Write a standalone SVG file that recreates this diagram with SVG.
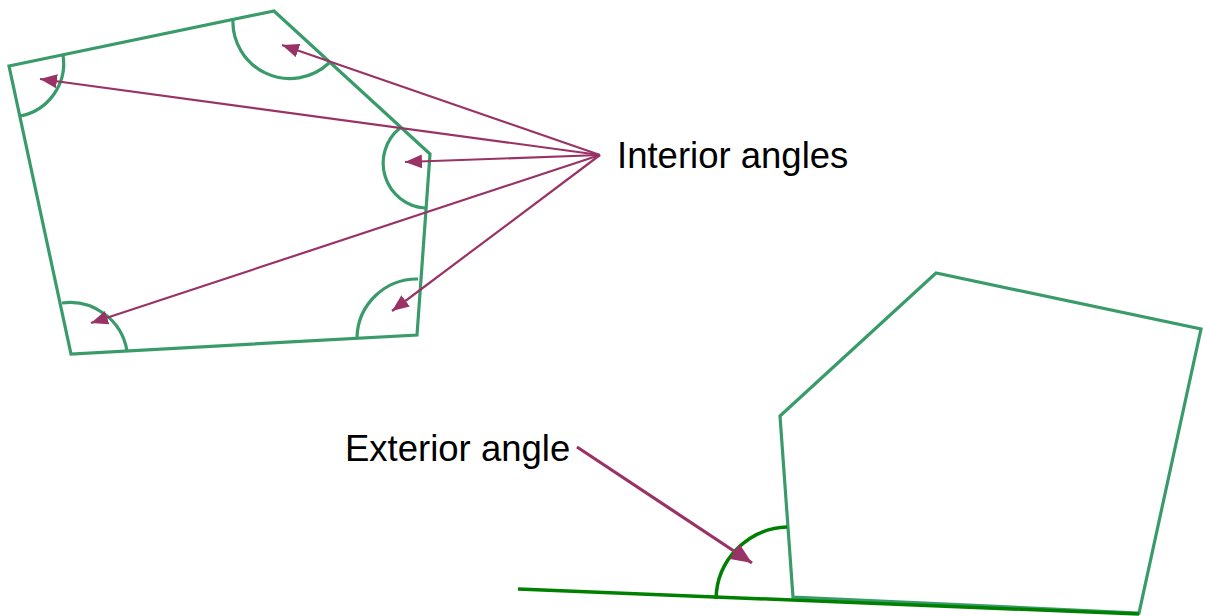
<svg xmlns="http://www.w3.org/2000/svg" width="1205" height="616" viewBox="0 0 1205 616">
<style>
.poly{fill:none;stroke:#3a9b6a;stroke-width:3.2;stroke-linejoin:miter}
.arc{fill:none;stroke:#3a9b6a;stroke-width:3.2}
.ext{fill:none;stroke:#008000;stroke-width:3.5}
.arr{fill:none;stroke:#993366;stroke-width:2.2}
.arr3{fill:none;stroke:#993366;stroke-width:3.2}
.lbl{font-family:"Liberation Sans",Arial,sans-serif;font-size:36.5px;fill:#000}
</style>
<defs>
<marker id="ah" markerUnits="userSpaceOnUse" markerWidth="18" markerHeight="14" refX="17" refY="7" orient="auto"><path d="M0,0 L17,7 L0,14 z" fill="#993366"/></marker>
<marker id="ah3" markerUnits="userSpaceOnUse" markerWidth="22" markerHeight="18" refX="21" refY="9" orient="auto"><path d="M0,0 L21,9 L0,18 z" fill="#993366"/></marker>
</defs>
<g id="interior-polygon">
<polygon class="poly" points="9,66 274,11 430,154 417,335 71,354"/>
<path class="arc" d="M63,55 A53.5,53.5 0 0 1 20,116"/>
<path class="arc" d="M233,18 A57,57 0 0 0 329,63"/>
<path class="arc" d="M400,128 A45,45 0 0 0 425,208"/>
<path class="arc" d="M418,279 A60,60 0 0 0 357,337"/>
<path class="arc" d="M62,303 A58,58 0 0 1 127,351"/>
</g>
<g id="exterior-polygon">
<polygon class="poly" points="780,416 936,273 1201,329 1139,613 793,597"/>
<line class="ext" x1="518" y1="589" x2="1139" y2="614"/>
<path class="ext" d="M787,527 A73.5,73.5 0 0 0 716,599"/>
</g>
<g id="label-interior"><text class="lbl" x="617" y="168">Interior angles</text></g>
<g id="label-exterior"><text class="lbl" x="345" y="461">Exterior angle</text></g>
<g id="connectors">
<line class="arr" x1="600" y1="155" x2="40" y2="79" marker-end="url(#ah)"/>
<line class="arr" x1="600" y1="155" x2="282" y2="45" marker-end="url(#ah)"/>
<line class="arr" x1="600" y1="155" x2="405" y2="162" marker-end="url(#ah)"/>
<line class="arr" x1="600" y1="155" x2="91" y2="323" marker-end="url(#ah)"/>
<line class="arr" x1="600" y1="155" x2="392" y2="311" marker-end="url(#ah)"/>
<line class="arr3" x1="577" y1="447" x2="752" y2="563" marker-end="url(#ah3)"/>
</g>
</svg>
